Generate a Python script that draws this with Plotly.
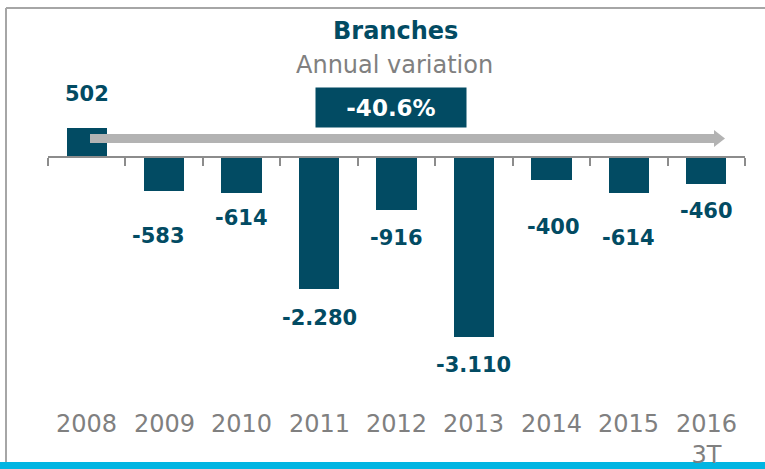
import plotly.graph_objects as go

# ---- data ----
years = ["2008", "2009", "2010", "2011", "2012", "2013", "2014", "2015", "2016"]
year_labels = ["2008", "2009", "2010", "2011", "2012", "2013", "2014", "2015", "2016<br>3T"]
values = [502, -583, -614, -2280, -916, -3110, -400, -614, -460]
value_labels = ["502", "-583", "-614", "-2.280", "-916", "-3.110", "-400", "-614", "-460"]
total_change = "-40.6%"
title_text = "Branches"
subtitle_text = "Annual variation"

# ---- styling / layout ----
label_shift = [34, -45, -25, -29, -28, -28, -47, -45, -27]   # vertical pixel offsets of value labels
label_xshift = [0, -6, 0, 0, 0, 0, 2, 0, 0]                   # horizontal pixel offsets
TEAL = "#024B63"
GREY_TXT = "#808080"
FONT = "DejaVu Sans"

W, H = 765, 469
L, R, T, B = 48, 20, 60, 69
PW, PH = W - L - R, H - T - B
YMIN, YMAX = -4190, 1672
N = len(years)


def px_x(p):
    return (p - L) / PW


def px_y(p):
    return (H - B - p) / PH


def cat_x(i):
    # paper fraction of the centre of category i on the x axis
    return (i + 0.5) / N


fig = go.Figure()
fig.add_trace(go.Bar(
    x=years, y=values, marker=dict(color=TEAL, line=dict(width=0)),
    width=0.52, hoverinfo="skip", showlegend=False,
))

annotations = []
for i, (v, lab, sh, xs) in enumerate(zip(values, value_labels, label_shift, label_xshift)):
    annotations.append(dict(
        x=cat_x(i), y=v, xref="paper", yref="y", text="<b>%s</b>" % lab, showarrow=False,
        xanchor="center", yanchor="middle", yshift=sh, xshift=xs,
        font=dict(family=FONT, size=21, color=TEAL),
    ))
for i, lab in enumerate(year_labels):
    annotations.append(dict(
        x=cat_x(i), y=px_y(407.5), xref="paper", yref="paper", text=lab, showarrow=False,
        xanchor="center", yanchor="top", font=dict(family=FONT, size=24, color=GREY_TXT),
    ))
annotations.append(dict(
    x=px_x(395), y=px_y(31), xref="paper", yref="paper", text="<b>%s</b>" % title_text,
    showarrow=False, yanchor="middle", xanchor="center",
    font=dict(family=FONT, size=24, color=TEAL),
))
annotations.append(dict(
    x=px_x(394.5), y=px_y(65), xref="paper", yref="paper", text=subtitle_text,
    showarrow=False, yanchor="middle", xanchor="center",
    font=dict(family=FONT, size=24, color=GREY_TXT),
))
annotations.append(dict(
    x=px_x(391), y=px_y(107.5), xref="paper", yref="paper", text="<b>%s</b>" % total_change,
    showarrow=False, yanchor="middle", xanchor="center", width=150, height=39,
    borderpad=0, bgcolor=TEAL, font=dict(family=FONT, size=23, color="white"),
))

shapes = [
    # outer frame: top and left edges
    dict(type="line", xref="paper", yref="paper", x0=px_x(6), x1=px_x(770),
         y0=px_y(8), y1=px_y(8), line=dict(color="#A6A6A6", width=2), layer="below"),
    dict(type="line", xref="paper", yref="paper", x0=px_x(6), x1=px_x(6),
         y0=px_y(8), y1=px_y(470), line=dict(color="#A6A6A6", width=2), layer="below"),
    # arrow shaft
    dict(type="rect", xref="paper", yref="paper", x0=px_x(90), x1=px_x(715),
         y0=px_y(134), y1=px_y(143), fillcolor="#B3B3B3", line=dict(width=0), layer="above"),
    # arrow head
    dict(type="path", xref="paper", yref="paper",
         path="M %f,%f L %f,%f L %f,%f Z" % (px_x(714), px_y(130), px_x(725), px_y(138.5),
                                             px_x(714), px_y(147)),
         fillcolor="#B3B3B3", line=dict(width=0), layer="above"),
    # bottom cyan band
    dict(type="rect", xref="paper", yref="paper", x0=px_x(-5), x1=px_x(775),
         y0=px_y(462), y1=px_y(475), fillcolor="#00B5E2", line=dict(width=0), layer="above"),
]

fig.update_layout(
    width=W, height=H,
    margin=dict(l=L, r=R, t=T, b=B, pad=0),
    paper_bgcolor="white", plot_bgcolor="white",
    annotations=annotations, shapes=shapes,
    xaxis=dict(
        type="category", range=[-0.5, N - 0.5], anchor="free",
        position=(0 - YMIN) / (YMAX - YMIN),
        showline=True, linecolor="#8C8C8C", linewidth=2,
        ticks="outside", tickson="boundaries", ticklen=8, tickwidth=2, tickcolor="#8C8C8C",
        showticklabels=False, showgrid=False, zeroline=False, fixedrange=True,
    ),
    yaxis=dict(range=[YMIN, YMAX], visible=False, showgrid=False, zeroline=False, fixedrange=True),
    bargap=0,
)

fig.write_html(
    "out.html",
    config={"displayModeBar": False},
    post_script=(
        "document.documentElement.style.overflow='hidden';"
        "document.body.style.margin='0px';document.body.style.overflow='hidden';"
    ),
)
